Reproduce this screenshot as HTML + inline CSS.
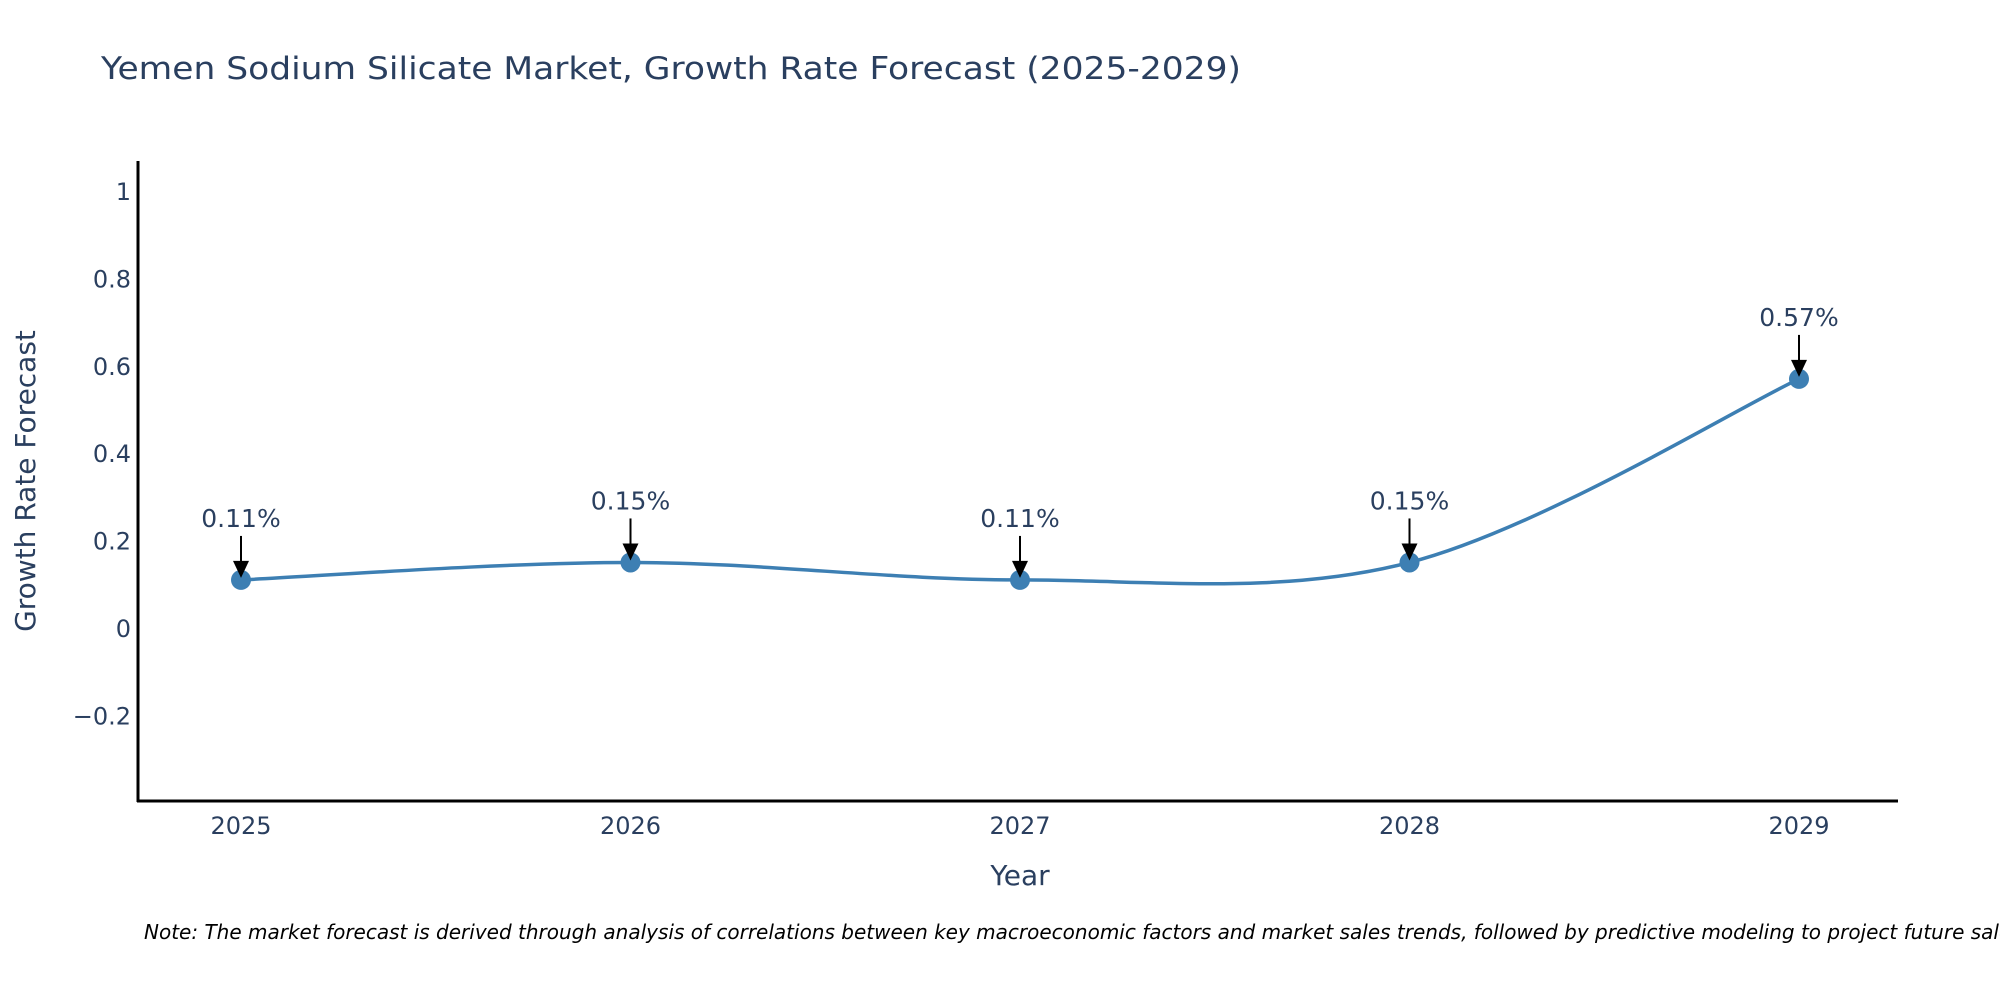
<!DOCTYPE html>
<html><head><meta charset="utf-8"><style>
body{margin:0;background:#fff}
svg{display:block;font-family:"DejaVu Sans","Liberation Sans",sans-serif}
</style></head><body>
<svg id="chart" width="2000" height="1000" viewBox="0 0 2000 1000">
<text x="101" y="79" font-size="31" fill="#2a3f5f" textLength="1140" lengthAdjust="spacingAndGlyphs">Yemen Sodium Silicate Market, Growth Rate Forecast (2025-2029)</text>
<g id="yticks"></g>
<g id="xticks"></g>
<line x1="138" y1="161" x2="138" y2="802" stroke="#000" stroke-width="3"/>
<line x1="137" y1="801" x2="1898" y2="801" stroke="#000" stroke-width="3"/>
<text transform="translate(35,481) rotate(-90)" text-anchor="middle" font-size="28" fill="#2a3f5f">Growth Rate Forecast</text>
<text x="1020" y="885" text-anchor="middle" font-size="28" fill="#2a3f5f">Year</text>
<g id="series"></g>
<g id="annots"></g>
<text x="144" y="939" font-size="20" font-style="italic" fill="#000">Note: The market forecast is derived through analysis of correlations between key macroeconomic factors and market sales trends, followed by predictive modeling to project future sales.</text>
</svg>
<script>
const years = [2025, 2026, 2027, 2028, 2029];
const growth = [0.11, 0.15, 0.11, 0.15, 0.57];
const labels = ["0.11%", "0.15%", "0.11%", "0.15%", "0.57%"];
const yTickVals = [-0.2, 0, 0.2, 0.4, 0.6, 0.8, 1];
const yTickText = ["\u22120.2", "0", "0.2", "0.4", "0.6", "0.8", "1"];

const NS = "http://www.w3.org/2000/svg";
function xs(v){ return 241 + (v - 2025) * 389.5; }
function ys(v){ return 628 - v * 437; }
function mk(tag, attrs, parent){ const e = document.createElementNS(NS, tag); for (const k in attrs) e.setAttribute(k, attrs[k]); parent.appendChild(e); return e; }

const yt = document.getElementById('yticks');
yTickVals.forEach((v, i) => {
  const t = mk('text', {x: 131, y: ys(v) + 9, 'text-anchor': 'end', 'font-size': 24, fill: '#2a3f5f'}, yt);
  
  
  t.textContent = yTickText[i];
});
const xt = document.getElementById('xticks');
years.forEach(y => {
  const t = mk('text', {x: xs(y), y: 834, 'text-anchor': 'middle', 'font-size': 24, fill: '#2a3f5f'}, xt);
  
  
  t.textContent = y;
});

const pts = years.map((y, i) => [xs(y), ys(growth[i])]);
let d = "M" + pts[0][0] + "," + pts[0][1];
for (let i = 0; i < pts.length - 1; i++) {
  const p0 = pts[Math.max(0, i - 1)], p1 = pts[i], p2 = pts[i + 1], p3 = pts[Math.min(pts.length - 1, i + 2)];
  const c1 = [p1[0] + (p2[0] - p0[0]) / 6, p1[1] + (p2[1] - p0[1]) / 6];
  const c2 = [p2[0] - (p3[0] - p1[0]) / 6, p2[1] - (p3[1] - p1[1]) / 6];
  d += " C" + c1 + " " + c2 + " " + p2;
}
const s = document.getElementById('series');
const line = mk('path', {d: d, fill: 'none', stroke: '#3d7fb3', 'stroke-width': 3.5}, s);


const an = document.getElementById('annots');
pts.forEach((p, i) => {
  const c = mk('circle', {cx: p[0], cy: p[1], r: 10, fill: '#3d7fb3'}, s);
  
  
  const a = mk('line', {x1: p[0], y1: p[1] - 44, x2: p[0], y2: p[1] - 16, stroke: '#000', 'stroke-width': 2}, an);
  
  
  const h = mk('polygon', {points: (p[0]-8)+","+(p[1]-19)+" "+(p[0]+8)+","+(p[1]-19)+" "+p[0]+","+(p[1]-2), fill: '#000'}, an);
  
  
  const t = mk('text', {x: p[0], y: p[1] - 53, 'text-anchor': 'middle', 'font-size': 25, fill: '#2a3f5f'}, an);
  
  
  t.textContent = labels[i];
});
</script>
</body></html>
